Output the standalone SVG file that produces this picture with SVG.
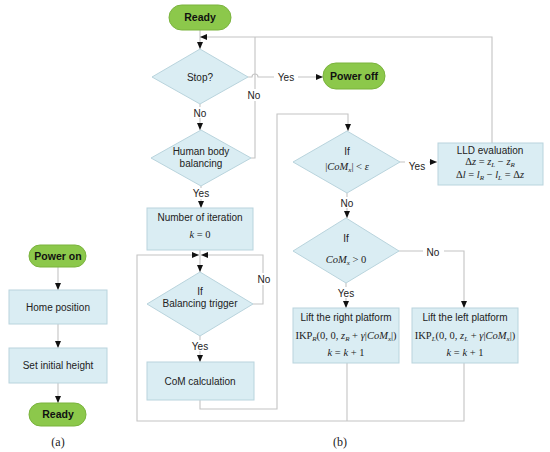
<svg xmlns="http://www.w3.org/2000/svg" width="550" height="452" viewBox="0 0 550 452">
<defs>
<marker id="ar" markerWidth="7" markerHeight="6" refX="7" refY="3" orient="auto" markerUnits="userSpaceOnUse">
<path d="M0,0 L7,3 L0,6 z" fill="#111"/>
</marker>
<style>
.box{fill:#daedf3;stroke:#b9d4dd;stroke-width:1}
.pill{fill:#8cc84b;stroke:#7ab33d;stroke-width:1}
.c{fill:none;stroke:#c4c4c4;stroke-width:1.1}
.t{font-family:"Liberation Sans",Arial,sans-serif;font-size:10px;fill:#222;text-anchor:middle}
.b{font-family:"Liberation Sans",Arial,sans-serif;font-size:10.5px;font-weight:bold;fill:#111;text-anchor:middle}
.m{font-family:"Liberation Serif","Times New Roman",serif;font-size:10.5px;fill:#222;text-anchor:middle}
.i{font-style:italic}
.s{font-size:7px}
.lb{fill:#fff}
.cap{font-family:"Liberation Serif","Times New Roman",serif;font-size:12px;fill:#222;text-anchor:middle}
</style>
</defs>
<rect width="550" height="452" fill="#fff"/>

<g id="connectors">
<!-- (a) -->
<path class="c" d="M58,267 V290" marker-end="url(#ar)"/>
<path class="c" d="M58,324 V348" marker-end="url(#ar)"/>
<path class="c" d="M58,383 V403" marker-end="url(#ar)"/>
<!-- (b) -->
<path class="c" d="M200,30 V49" marker-end="url(#ar)"/>
<path class="c" d="M492,143 V37 H200" marker-end="url(#ar)"/>
<path class="c" d="M248,77 H252 a3,3 0 0 1 6,0 H323" marker-end="url(#ar)"/>
<path class="c" d="M200,104 V130" marker-end="url(#ar)"/>
<path class="c" d="M251,158 H255 V37"/>
<path class="c" d="M201,186 V208" marker-end="url(#ar)"/>
<path class="c" d="M200,250 V272" marker-end="url(#ar)"/>
<path class="c" d="M347,363 V421"/>
<path class="c" d="M464,363 V421 H137 V255 H199" marker-end="url(#ar)"/>
<path class="c" d="M253,304 H263 V255 H201" marker-end="url(#ar)"/>
<path class="c" d="M200,336 V362" marker-end="url(#ar)"/>
<path class="c" d="M200,400 V409 H277 V114 H348 V131" marker-end="url(#ar)"/>
<path class="c" d="M400,162 H437" marker-end="url(#ar)"/>
<path class="c" d="M347,193 V218" marker-end="url(#ar)"/>
<path class="c" d="M399,251 H464 V308" marker-end="url(#ar)"/>
<path class="c" d="M346,283 V308" marker-end="url(#ar)"/>
<!-- labels -->
<rect class="lb" x="190" y="107" width="20" height="11"/>
<text class="t" x="200" y="117">No</text>
<rect class="lb" x="244" y="89" width="21" height="12"/>
<text class="t" x="254" y="99">No</text>
<rect class="lb" x="274" y="71" width="24" height="12"/>
<text class="t" x="286" y="81">Yes</text>
<rect class="lb" x="189" y="188" width="24" height="11"/>
<text class="t" x="201" y="197">Yes</text>
<rect class="lb" x="254" y="273" width="22" height="12"/>
<text class="t" x="264" y="283">No</text>
<rect class="lb" x="188" y="340" width="24" height="11"/>
<text class="t" x="200" y="350">Yes</text>
<rect class="lb" x="405" y="160" width="24" height="12"/>
<text class="t" x="417" y="170">Yes</text>
<rect class="lb" x="337" y="197" width="20" height="11"/>
<text class="t" x="347" y="207">No</text>
<rect class="lb" x="423" y="246" width="21" height="12"/>
<text class="t" x="433" y="256">No</text>
<rect class="lb" x="334" y="287" width="24" height="11"/>
<text class="t" x="346" y="297">Yes</text>
</g>

<g id="power-on"><rect class="pill" x="29" y="245" width="57" height="22" rx="11"/><text class="b" x="58" y="260">Power on</text></g>
<g id="home-position"><rect class="box" x="9" y="290" width="98" height="34"/><text class="t" x="58" y="311">Home position</text></g>
<g id="set-initial-height"><rect class="box" x="9" y="348" width="98" height="35"/><text class="t" x="58" y="369">Set initial height</text></g>
<g id="ready-a"><rect class="pill" x="29" y="403" width="57" height="23" rx="11.5"/><text class="b" x="58" y="418">Ready</text></g>
<text class="cap" x="58" y="446">(a)</text>

<g id="ready-b"><rect class="pill" x="169" y="5" width="62" height="25" rx="12.5"/><text class="b" x="200" y="21">Ready</text></g>
<g id="stop"><polygon class="box" points="200,49 248,77 200,104 152,77"/><text class="t" x="200" y="81">Stop?</text></g>
<g id="power-off"><rect class="pill" x="323" y="63" width="62" height="26" rx="13"/><text class="b" x="354" y="80">Power off</text></g>
<g id="human-body"><polygon class="box" points="201,130 251,158 201,186 151,158"/><text class="t" x="201" y="155">Human body</text><text class="t" x="201" y="167">balancing</text></g>
<g id="number-iteration"><rect class="box" x="147" y="208" width="106" height="42"/><text class="t" x="200" y="221">Number of iteration</text><text class="m" x="200" y="238" font-size="12"><tspan class="i">k</tspan> = 0</text></g>
<g id="balancing-trigger"><polygon class="box" points="200,272 253,304 200,336 147,304"/><text class="t" x="200" y="295">If</text><text class="t" x="200" y="307">Balancing trigger</text></g>
<g id="com-calc"><rect class="box" x="147" y="362" width="107" height="38"/><text class="t" x="200" y="385">CoM calculation</text></g>
<g id="if-com-eps"><polygon class="box" points="347,131 400,162 347,193 293,162"/><text class="t" x="347" y="155">If</text><text class="m" x="347" y="170">|<tspan class="i">CoM</tspan><tspan class="i s" dy="2">x</tspan><tspan dy="-2">| &lt; </tspan><tspan class="i">ε</tspan></text></g>
<g id="lld"><rect class="box" x="438" y="143" width="105" height="42"/><text class="t" x="490" y="154">LLD evaluation</text><text class="m" x="490" y="165" font-size="9.5">Δ<tspan class="i">z</tspan> = <tspan class="i">z</tspan><tspan class="i s" dy="1.5">L</tspan><tspan dy="-1.5"> − </tspan><tspan class="i">z</tspan><tspan class="i s" dy="1.5">R</tspan></text><text class="m" x="490" y="178" font-size="9.5">Δ<tspan class="i">l</tspan> = <tspan class="i">l</tspan><tspan class="i s" dy="1.5">R</tspan><tspan dy="-1.5"> − </tspan><tspan class="i">l</tspan><tspan class="i s" dy="1.5">L</tspan><tspan dy="-1.5"> = Δ</tspan><tspan class="i">z</tspan></text></g>
<g id="if-com-pos"><polygon class="box" points="346,218 399,251 346,283 293,251"/><text class="t" x="346" y="242">If</text><text class="m" x="346" y="263"><tspan class="i">CoM</tspan><tspan class="i s" dy="2">x</tspan><tspan dy="-2"> &gt; 0</tspan></text></g>
<g id="lift-right"><rect class="box" x="293" y="308" width="106" height="55"/><text class="t" x="346" y="321">Lift the right platform</text><text class="m" x="346" y="339">IKP<tspan class="i s" dy="2">R</tspan><tspan dy="-2">(0, 0, </tspan><tspan class="i">z</tspan><tspan class="i s" dy="2">R</tspan><tspan dy="-2"> + </tspan><tspan class="i">γ</tspan>|<tspan class="i">CoM</tspan><tspan class="i s" dy="2">x</tspan><tspan dy="-2">|)</tspan></text><text class="m" x="346" y="356" font-size="12"><tspan class="i">k</tspan> = <tspan class="i">k</tspan> + 1</text></g>
<g id="lift-left"><rect class="box" x="412" y="308" width="106" height="55"/><text class="t" x="465" y="321">Lift the left platform</text><text class="m" x="465" y="339">IKP<tspan class="i s" dy="2">L</tspan><tspan dy="-2">(0, 0, </tspan><tspan class="i">z</tspan><tspan class="i s" dy="2">L</tspan><tspan dy="-2"> + </tspan><tspan class="i">γ</tspan>|<tspan class="i">CoM</tspan><tspan class="i s" dy="2">x</tspan><tspan dy="-2">|)</tspan></text><text class="m" x="465" y="356" font-size="12"><tspan class="i">k</tspan> = <tspan class="i">k</tspan> + 1</text></g>
<text class="cap" x="340" y="446">(b)</text>
</svg>
